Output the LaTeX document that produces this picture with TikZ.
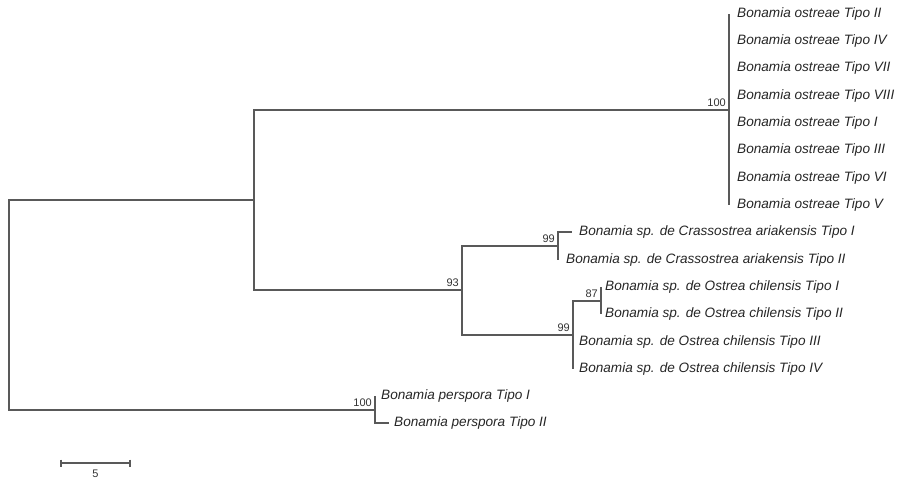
\documentclass[tikz,border=0pt]{standalone}
\usepackage{fontspec}
\setmainfont{Liberation Sans}
\usetikzlibrary{positioning}
\begin{document}
\begin{tikzpicture}[
    x=1pt, y=-1pt,
    branch/.style={draw=black!65, line width=1.3pt},
    taxon/.style={font=\fontsize{13.6}{15}\selectfont\itshape, inner sep=0pt, text=black!85},
    boot/.style={font=\fontsize{11}{13}\selectfont, inner sep=0pt, text=black!80}
  ]
  \useasboundingbox (0,0) rectangle (898,480);
  % internal nodes
  \coordinate (root) at (9,305);
  \coordinate (nA) at (254,200);
  \coordinate (nO) at (729,110);
  \coordinate (nB) at (462,290);
  \coordinate (nC) at (558,246);
  \coordinate (nD) at (573,335);
  \coordinate (nE) at (601,301);
  \coordinate (nP) at (375,410);
  % tips
  \coordinate (o2) at (729,14);
  \coordinate (o4) at (729,41);
  \coordinate (o7) at (729,68);
  \coordinate (o8) at (729,96);
  \coordinate (o1) at (729,123);
  \coordinate (o3) at (729,150);
  \coordinate (o6) at (729,178);
  \coordinate (o5) at (729,205);
  \coordinate (c1) at (572,232);
  \coordinate (c2) at (558,260);
  \coordinate (ch1) at (601,287);
  \coordinate (ch2) at (601,314);
  \coordinate (ch3) at (573,342);
  \coordinate (ch4) at (573,369);
  \coordinate (p1) at (375,396);
  \coordinate (p2) at (389,423);

  % branches
  \draw[branch] (root) |- (nA);
  \draw[branch] (root) |- (nP);
  \draw[branch] (nA) |- (nO);
  \draw[branch] (nA) |- (nB);
  \draw[branch] (nB) |- (nC);
  \draw[branch] (nB) |- (nD);
  \draw[branch] (nD) |- (nE);
  \foreach \t in {o2,o5}
    \draw[branch] (nO) |- (\t);
  \foreach \t in {c1,c2}
    \draw[branch] (nC) |- (\t);
  \foreach \t in {ch1,ch2}
    \draw[branch] (nE) |- (\t);
  \foreach \t in {ch3,ch4}
    \draw[branch] (nD) |- (\t);
  \foreach \t in {p1,p2}
    \draw[branch] (nP) |- (\t);

  % taxa
  \node[taxon, right=8pt of o2] {Bonamia ostreae Tipo II};
  \node[taxon, right=8pt of o4] {Bonamia ostreae Tipo IV};
  \node[taxon, right=8pt of o7] {Bonamia ostreae Tipo VII};
  \node[taxon, right=8pt of o8] {Bonamia ostreae Tipo VIII};
  \node[taxon, right=8pt of o1] {Bonamia ostreae Tipo I};
  \node[taxon, right=8pt of o3] {Bonamia ostreae Tipo III};
  \node[taxon, right=8pt of o6] {Bonamia ostreae Tipo VI};
  \node[taxon, right=8pt of o5] {Bonamia ostreae Tipo V};
  \node[taxon, right=7pt of c1] {Bonamia sp. de Crassostrea ariakensis Tipo I};
  \node[taxon, right=8pt of c2] {Bonamia sp. de Crassostrea ariakensis Tipo II};
  \node[taxon, right=4pt of ch1] {Bonamia sp. de Ostrea chilensis Tipo I};
  \node[taxon, right=4pt of ch2] {Bonamia sp. de Ostrea chilensis Tipo II};
  \node[taxon, right=6pt of ch3] {Bonamia sp. de Ostrea chilensis Tipo III};
  \node[taxon, right=6pt of ch4] {Bonamia sp. de Ostrea chilensis Tipo IV};
  \node[taxon, right=6pt of p1] {Bonamia perspora Tipo I};
  \node[taxon, right=5pt of p2] {Bonamia perspora Tipo II};

  % bootstrap values
  \node[boot, above left=3pt and 3pt of nO] {100};
  \node[boot, above left=3pt and 3pt of nB] {93};
  \node[boot, above left=3pt and 3pt of nC] {99};
  \node[boot, above left=3pt and 3pt of nD] {99};
  \node[boot, above left=3pt and 3pt of nE] {87};
  \node[boot, above left=3pt and 3pt of nP] {100};

  % scale bar
  \coordinate (s0) at (61,463);
  \coordinate (s1) at (130,463);
  \draw[branch] (s0) -- node[boot, below=6pt] {5} (s1);
  \draw[branch] ([yshift=3.5pt]s0) -- ([yshift=-3.5pt]s0);
  \draw[branch] ([yshift=3.5pt]s1) -- ([yshift=-3.5pt]s1);
\end{tikzpicture}
\end{document}
